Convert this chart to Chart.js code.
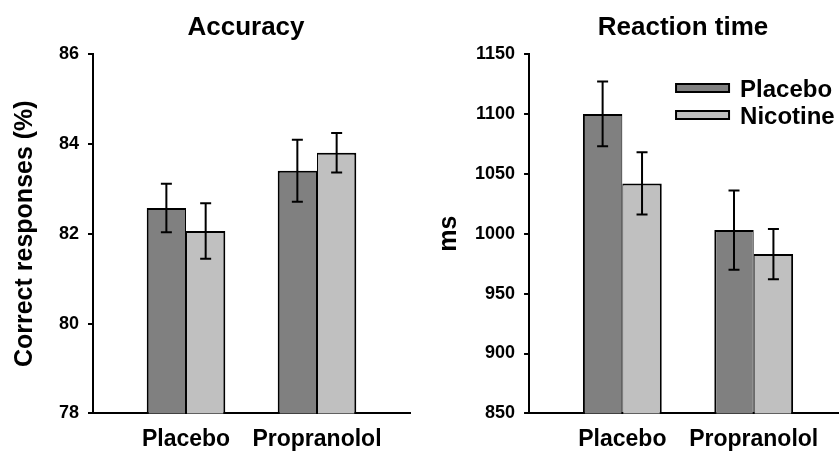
<!DOCTYPE html>
<html><head><meta charset="utf-8">
<script src="https://cdn.jsdelivr.net/npm/chart.js@4.4.1/dist/chart.umd.min.js"></script>
<style>
html,body{margin:0;padding:0;background:#fff;overflow:hidden;width:839px;height:453px;position:relative}
canvas{position:absolute;top:0}
#c1{left:0}
#c2{left:420px}
</style></head><body>
<canvas id="c1" width="492" height="453"></canvas>
<canvas id="c2" width="526" height="453"></canvas>
<script>
// ---- data ----
const categories = ['Placebo', 'Propranolol'];
const seriesNames = ['Placebo', 'Nicotine'];
const accPlacebo = [82.57, 83.40];
const accPlaceboErr = [0.54, 0.69];
const accNicotine = [82.06, 83.80];
const accNicotineErr = [0.62, 0.44];
const rtPlacebo = [1100, 1003];
const rtPlaceboErr = [27, 33];
const rtNicotine = [1042, 983];
const rtNicotineErr = [26, 21];
const accTicks = [78, 80, 82, 84, 86];
const rtTicks = [850, 900, 950, 1000, 1050, 1100, 1150];
const seriesColors = ['#808080', '#c0c0c0'];

Chart.defaults.font.family = '"Liberation Sans", Arial, sans-serif';
Chart.defaults.font.weight = 'bold';
Chart.defaults.color = '#000';

const barBorders = [
  { top: 2, left: 2, right: 1, bottom: 0 },
  { top: 2, left: 1, right: 2, bottom: 0 }
];

const errorBars = {
  id: 'errorBars',
  afterDatasetsDraw(chart) {
    const ctx = chart.ctx, y = chart.scales.y;
    chart.data.datasets.forEach((ds, di) => {
      const meta = chart.getDatasetMeta(di);
      meta.data.forEach((bar, i) => {
        const v = ds.data[i].y, e = ds.errors[i];
        const yTop = y.getPixelForValue(v + e), yBot = y.getPixelForValue(v - e);
        ctx.save();
        ctx.strokeStyle = '#000'; ctx.lineWidth = 2;
        ctx.beginPath();
        ctx.moveTo(bar.x, yTop); ctx.lineTo(bar.x, yBot);
        ctx.moveTo(bar.x - 5.5, yTop); ctx.lineTo(bar.x + 5.5, yTop);
        ctx.moveTo(bar.x - 5.5, yBot); ctx.lineTo(bar.x + 5.5, yBot);
        ctx.stroke();
        ctx.restore();
      });
    });
  }
};

const boxLegend = {
  id: 'boxLegend',
  afterDraw(chart, args, opts) {
    if (!opts || !opts.display) return;
    const ctx = chart.ctx, a = chart.chartArea;
    chart.data.datasets.forEach((ds, i) => {
      const x = a.left + opts.x, y = a.top + opts.y + i * opts.spacing;
      ctx.save();
      ctx.fillStyle = ds.backgroundColor;
      ctx.fillRect(x, y, opts.boxWidth, opts.boxHeight);
      ctx.strokeStyle = '#000'; ctx.lineWidth = 2;
      ctx.strokeRect(x, y, opts.boxWidth, opts.boxHeight);
      ctx.fillStyle = '#000';
      ctx.font = 'bold 24px "Liberation Sans", Arial, sans-serif';
      ctx.textBaseline = 'middle'; ctx.textAlign = 'left';
      ctx.fillText(ds.label, x + opts.boxWidth + opts.gap, y + opts.boxHeight / 2 + 2);
      ctx.restore();
    });
  }
};

function makeChart(id, cfg) {
  const tk = cfg.ticks;
  return new Chart(document.getElementById(id), {
    type: 'bar',
    data: {
      datasets: seriesNames.map((name, s) => ({
        label: name,
        data: cfg.values[s].map((v, i) => ({ x: i, y: v })),
        errors: cfg.errors[s],
        backgroundColor: seriesColors[s],
        borderColor: '#000',
        borderWidth: barBorders[s],
        borderSkipped: false,
        categoryPercentage: 0.6,
        barPercentage: 1.0
      }))
    },
    options: {
      responsive: false,
      animation: false,
      events: [],
      layout: { padding: 0 },
      plugins: {
        legend: { display: false },
        tooltip: { enabled: false },
        title: {
          display: true, text: cfg.title, color: '#000',
          font: { size: 26, weight: 'bold' },
          padding: { top: 12, bottom: 10.8 }
        },
        boxLegend: cfg.legend
      },
      scales: {
        x: {
          type: 'linear', min: -0.71, max: 1.71, offset: false,
          afterBuildTicks: s => { s.ticks = categories.map((c, i) => ({ value: i })); },
          afterFit: s => { s.height = 39.6; },
          ticks: {
            callback: v => categories[v] ?? '',
            color: '#000', font: { size: 23, weight: 'bold' },
            padding: 12, autoSkip: false, maxRotation: 0
          },
          grid: { display: false, drawTicks: false },
          border: { display: true, color: '#000', width: 2 }
        },
        y: {
          min: tk[0], max: tk[tk.length - 1],
          afterBuildTicks: s => { s.ticks = tk.map(v => ({ value: v })); },
          ticks: { color: '#000', font: { size: 18, weight: 'bold' }, padding: 9, callback: v => String(v) },
          grid: { display: true, drawOnChartArea: false, drawTicks: true, tickLength: 5, color: '#000', lineWidth: 2 },
          border: { display: true, color: '#000', width: 2 },
          title: {
            display: true, text: cfg.yTitle, color: '#000',
            font: { size: 25, weight: 'bold' },
            padding: cfg.yTitlePad
          }
        },
        yR: {
          type: 'linear', position: 'right', display: true,
          grid: { display: false, drawTicks: false },
          border: { display: false },
          ticks: { display: false },
          afterFit: s => { s.width = cfg.rightGap; }
        }
      }
    },
    plugins: [errorBars, boxLegend]
  });
}

makeChart('c1', {
  title: 'Accuracy',
  yTitle: 'Correct responses (%)',
  yTitlePad: { top: 10, bottom: 10 },
  ticks: accTicks,
  values: [accPlacebo, accNicotine],
  errors: [accPlaceboErr, accNicotineErr],
  rightGap: 82,
  legend: { display: false }
});

makeChart('c2', {
  title: 'Reaction time',
  yTitle: 'ms',
  yTitlePad: { top: 14.2, bottom: 1.8 },
  ticks: rtTicks,
  values: [rtPlacebo, rtNicotine],
  errors: [rtPlaceboErr, rtNicotineErr],
  rightGap: 99,
  legend: { display: true, x: 147, y: 30, spacing: 27, boxWidth: 53, boxHeight: 8, gap: 11 }
});
</script>
</body></html>
